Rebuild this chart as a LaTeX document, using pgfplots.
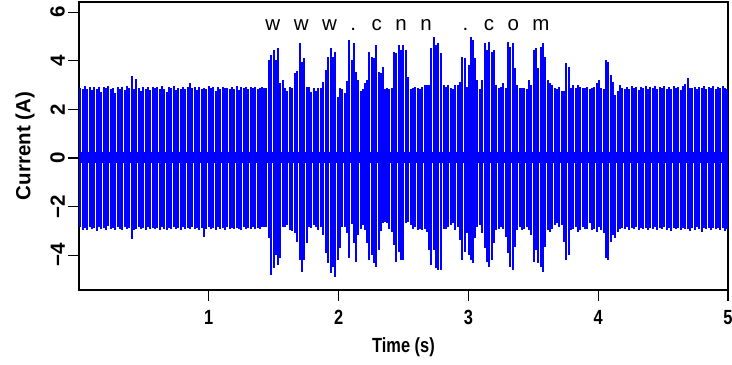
\documentclass[border=0pt]{standalone}
\usepackage{fontspec}
\setmainfont{Liberation Sans}
\newfontfamily\narrowfont[FakeStretch=0.8]{Liberation Sans}
\usepackage{pgfplots}
\usepackage{pgfplotstable}
\pgfplotsset{compat=1.18}
\newcommand\fs{\fontsize{10.25}{12}\selectfont}

\pgfplotstableread{
t up lo
0.009 2.90 -2.85
0.027 2.83 -2.95
0.045 2.95 -2.88
0.063 2.86 -2.97
0.081 2.92 -2.82
0.099 2.78 -2.93
0.117 2.94 -2.87
0.135 2.85 -3.00
0.153 2.91 -2.84
0.171 2.70 -2.91
0.189 2.93 -2.86
0.207 2.87 -2.96
0.225 2.96 -2.80
0.243 2.82 -2.92
0.261 2.90 -2.88
0.279 2.68 -2.95
0.297 2.94 -2.83
0.315 2.84 -2.90
0.333 2.92 -2.97
0.351 2.79 -2.85
0.369 2.95 -2.92
0.387 2.88 -2.87
0.405 3.37 -3.33
0.423 2.86 -2.95
0.441 3.24 -2.90
0.459 2.90 -2.84
0.477 2.75 -2.93
0.495 2.93 -2.88
0.513 2.85 -2.96
0.531 2.91 -2.82
0.549 2.80 -2.91
0.567 2.94 -2.87
0.585 2.87 -2.94
0.603 2.92 -2.86
0.621 2.83 -2.97
0.639 2.96 -2.83
0.657 2.86 -2.90
0.675 2.72 -2.95
0.693 2.93 -2.86
0.711 2.88 -2.92
0.729 2.95 -2.84
0.747 2.81 -2.93
0.765 2.90 -2.88
0.783 2.86 -2.97
0.801 2.94 -2.85
0.819 2.84 -2.91
0.837 2.91 -2.87
0.855 3.10 -2.94
0.873 2.87 -2.83
0.891 2.93 -2.92
0.909 2.78 -2.88
0.927 2.92 -2.95
0.945 2.86 -2.86
0.963 2.90 -3.25
0.981 2.82 -2.90
0.999 2.95 -2.85
1.017 2.88 -2.93
1.035 2.92 -2.87
1.053 2.74 -2.96
1.071 2.91 -2.84
1.089 2.85 -2.91
1.107 2.94 -2.88
1.125 2.87 -2.95
1.143 2.90 -2.83
1.161 2.83 -2.92
1.179 2.93 -2.87
1.197 2.86 -2.94
1.215 2.95 -2.86
1.233 2.80 -2.90
1.251 2.91 -2.97
1.269 2.87 -2.85
1.287 2.94 -2.92
1.305 2.85 -2.88
1.323 2.92 -2.94
1.341 2.88 -2.84
1.359 2.93 -2.91
1.377 2.86 -2.87
1.393 2.90 -2.90
1.408 2.93 -2.83
1.426 2.90 -2.85
1.444 2.90 -2.83
1.464 4.03 -3.30
1.482 4.24 -4.81
1.500 4.44 -4.54
1.518 4.03 -4.00
1.536 4.51 -4.40
1.551 3.08 -4.10
1.569 3.20 -2.83
1.587 2.87 -2.83
1.605 2.75 -2.76
1.623 2.93 -2.96
1.641 2.88 -3.00
1.664 3.50 -3.10
1.682 3.57 -3.44
1.703 4.75 -4.20
1.721 3.96 -4.68
1.736 4.10 -4.20
1.754 2.93 -3.51
1.772 2.93 -2.83
1.790 2.72 -2.88
1.808 2.88 -2.76
1.826 2.75 -2.85
1.844 2.88 -2.96
1.862 2.88 -2.83
1.882 3.14 -3.17
1.900 3.62 -3.92
1.921 4.17 -4.33
1.938 4.51 -4.74
1.956 4.17 -4.47
1.974 4.37 -4.88
1.992 2.52 -4.20
2.010 2.88 -3.72
2.028 2.82 -2.83
2.046 2.68 -2.83
2.064 3.16 -3.10
2.082 4.86 -4.13
2.100 4.03 -2.71
2.118 4.72 -3.51
2.133 3.55 -4.27
2.151 3.20 -3.17
2.169 2.75 -2.90
2.187 2.82 -2.76
2.205 3.08 -2.96
2.221 3.20 -3.51
2.238 4.37 -4.20
2.256 4.17 -4.00
2.272 4.10 -4.33
2.290 4.65 -4.47
2.308 3.55 -3.79
2.323 3.50 -3.00
2.341 3.76 -2.69
2.356 2.82 -2.62
2.374 2.88 -2.69
2.392 2.82 -2.90
2.410 2.88 -3.03
2.428 4.37 -3.58
2.446 4.31 -4.27
2.464 4.65 -3.86
2.482 4.44 -4.20
2.500 4.65 -4.20
2.518 4.44 -2.69
2.536 3.35 -2.62
2.554 2.82 -2.76
2.572 2.88 -2.90
2.590 2.93 -2.83
2.608 2.88 -2.96
2.626 2.82 -2.90
2.644 2.93 -2.96
2.662 3.00 -2.90
2.679 3.00 -3.03
2.697 3.00 -3.79
2.715 4.51 -4.40
2.733 4.99 -3.79
2.751 4.65 -4.54
2.769 4.72 -4.61
2.787 4.31 -4.61
2.810 3.00 -2.90
2.828 2.93 -2.90
2.846 3.00 -2.83
2.864 2.88 -2.76
2.882 2.82 -2.69
2.900 3.00 -2.96
2.918 3.00 -2.83
2.936 3.14 -3.38
2.954 4.17 -4.20
2.972 4.10 -3.86
2.990 2.93 -3.10
3.008 3.83 -4.00
3.018 4.99 -4.20
3.036 4.86 -4.33
3.054 4.10 -3.30
3.069 3.20 -2.83
3.087 2.82 -2.76
3.105 3.20 -3.10
3.126 4.72 -3.72
3.144 4.44 -4.27
3.162 4.79 -4.47
3.180 4.37 -4.20
3.197 4.44 -3.51
3.215 3.00 -2.96
3.233 2.88 -2.90
3.251 2.93 -2.83
3.269 3.08 -2.90
3.287 2.88 -3.24
3.305 4.79 -3.92
3.323 4.58 -4.47
3.341 4.72 -4.61
3.359 3.69 -3.65
3.377 3.00 -2.96
3.395 2.88 -2.83
3.413 2.88 -2.96
3.431 2.88 -2.90
3.449 2.82 -2.83
3.469 3.20 -2.96
3.485 3.00 -3.17
3.503 4.44 -4.27
3.521 4.51 -3.79
3.538 3.69 -4.33
3.556 4.58 -4.47
3.574 4.72 -4.68
3.592 4.17 -3.65
3.610 3.20 -2.96
3.628 3.08 -3.03
3.646 3.00 -2.90
3.664 2.88 -2.76
3.682 2.82 -2.69
3.700 2.93 -2.83
3.718 2.75 -2.76
3.736 2.75 -3.44
3.754 3.90 -4.20
3.772 3.76 -4.00
3.790 2.88 -2.96
3.808 3.00 -2.90
3.826 2.88 -2.83
3.844 3.00 -3.03
3.862 2.93 -2.96
3.880 2.88 -2.83
3.898 2.88 -2.90
3.915 2.93 -2.90
3.933 2.82 -2.69
3.951 2.88 -2.96
3.969 2.93 -2.90
3.987 3.08 -3.03
4.005 3.20 -2.83
4.023 2.88 -2.96
4.041 2.82 -3.10
4.059 4.03 -4.10
4.077 3.96 -4.20
4.095 3.42 -3.44
4.113 3.14 -3.17
4.131 2.60 -3.30
4.149 2.75 -3.03
4.167 3.00 -2.90
4.185 2.90 -2.88
4.203 2.86 -2.93
4.221 2.93 -2.85
4.239 2.83 -2.96
4.257 2.95 -2.87
4.275 2.88 -2.92
4.293 2.92 -2.84
4.311 2.79 -2.95
4.329 2.94 -2.88
4.347 2.87 -2.91
4.365 2.96 -2.86
4.383 2.85 -2.97
4.401 2.91 -2.89
4.419 2.88 -2.93
4.437 2.95 -2.85
4.455 2.82 -2.98
4.473 2.93 -2.87
4.491 2.89 -2.92
4.509 2.97 -2.84
4.527 2.86 -2.95
4.545 2.92 -2.88
4.563 2.84 -2.99
4.581 2.95 -2.86
4.599 2.88 -2.93
4.617 2.93 -2.89
4.635 2.80 -2.96
4.653 2.96 -2.87
4.671 3.05 -2.94
4.689 3.28 -2.90
4.707 2.90 -3.02
4.725 2.87 -2.88
4.743 2.94 -2.97
4.761 2.83 -2.85
4.779 2.92 -2.93
4.797 2.88 -3.05
4.815 2.96 -2.87
4.833 2.85 -2.94
4.851 2.93 -2.89
4.869 2.89 -2.96
4.887 2.97 -2.86
4.905 2.84 -2.93
4.923 2.92 -2.88
4.941 2.88 -2.97
4.959 2.95 -2.87
4.977 2.90 -3.02
4.995 2.86 -2.90
}\sig

\begin{document}
\begin{tikzpicture}
\begin{axis}[
  at={(0,0)}, anchor=south west,
  scale only axis, width=324.5pt, height=144pt,
  xmin=0, xmax=5, ymin=-5.43, ymax=6.42,
  xtick={1,2,3,4,5}, xticklabels={1,2,3,4,5},
  ytick={-4,-2,0,2,4,6}, yticklabels={−4,−2,0,2,4,6},
  tick pos=left,
  tick align=outside,
  major tick length=5.5pt,
  axis line style={line width=0.65pt},
  every tick/.style={black, line width=0.65pt},
  xticklabel shift=1pt,
  yticklabel shift=-2pt,
  xticklabel style={font=\narrowfont\bfseries\fs},
  yticklabel style={font=\bfseries\fs, rotate=90, anchor=south},
  xlabel={Time (s)}, ylabel={Current (A)},
  xlabel style={font=\narrowfont\bfseries\fs, at={(axis description cs:0.5,-0.2)}, anchor=center},
  ylabel style={font=\bfseries\fs, at={(axis description cs:-0.083,0.5)}, anchor=center},
]
\addplot[blue, line width=1pt, ycomb, no markers] table[x=t, y=up] {\sig};
\addplot[blue, line width=1pt, ycomb, no markers] table[x=t, y=lo] {\sig};
\addplot[fill=blue, draw=none] coordinates {(0,-0.22) (5,-0.22) (5,0.25) (0,0.25)} -- cycle;
\node[font=\fs, anchor=base] at (axis cs:2.531,5.24) {\spaceskip=0.66em\relax w w w . c n n\hspace{0.85em} . c o m};
\end{axis}
\pgfresetboundingbox
\useasboundingbox (-39.5pt,-37pt) rectangle (326.5pt,145pt);
\end{tikzpicture}
\end{document}
